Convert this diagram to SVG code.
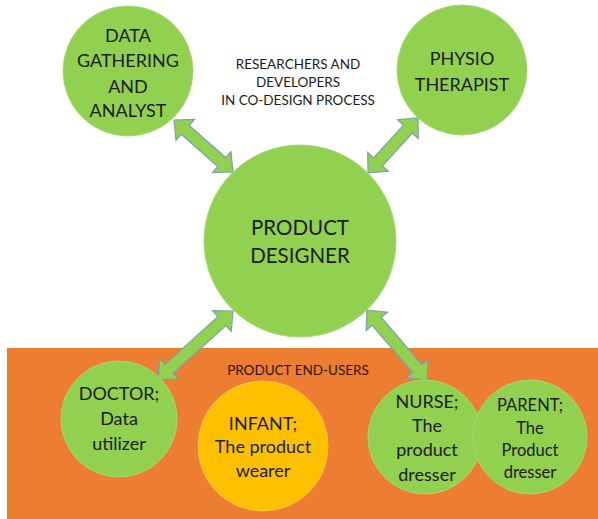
<svg xmlns="http://www.w3.org/2000/svg" width="598" height="519" viewBox="0 0 598 519">
<style>
.node{fill:#92D050;stroke:#A6D975;stroke-width:1}
.infant{fill:#FFC000;stroke:#F7C64A;stroke-width:1}
.arrow{fill:#92D050;stroke:#7C9FAE;stroke-width:1.2;stroke-linejoin:miter}
text{font-family:Lato,"Liberation Sans",sans-serif;fill:#1c1c1c;text-anchor:middle}
.lbl{font-size:18px}
.big{font-size:20.5px}
.small{font-size:13.5px}
.par{font-size:16.5px}
</style>
<rect width="598" height="519" fill="#ffffff"/>
<rect id="endusers-area" x="7" y="348" width="591" height="171" fill="#ED7D31"/>
<g id="caption-top">
<text class="small" x="298" y="69">RESEARCHERS AND</text>
<text class="small" x="298" y="87">DEVELOPERS</text>
<text class="small" x="298" y="105">IN CO-DESIGN PROCESS</text>
</g>
<g id="caption-endusers">
<text class="small" x="298" y="375" style="fill:#2a1608">PRODUCT END-USERS</text>
</g>
<g id="connectors">
<path class="arrow" transform="translate(174,120) rotate(41.4)" d="M0,0 L15,-14 L15,-6 L63.6,-6 L63.6,-14 L78.6,0 L63.6,14 L63.6,6 L15,6 L15,14 Z"/>
<path class="arrow" transform="translate(418,118) rotate(132.3)" d="M0,0 L15,-14 L15,-6 L59.3,-6 L59.3,-14 L74.3,0 L59.3,14 L59.3,6 L15,6 L15,14 Z"/>
<path class="arrow" transform="translate(233,311) rotate(137.8)" d="M0,0 L15,-14 L15,-6 L86.2,-6 L86.2,-14 L101.2,0 L86.2,14 L86.2,6 L15,6 L15,14 Z"/>
<path class="arrow" transform="translate(367,310) rotate(49.4)" d="M0,0 L15,-14 L15,-6 L77.2,-6 L77.2,-14 L92.2,0 L77.2,14 L77.2,6 L15,6 L15,14 Z"/>
</g>
<g id="data-gathering">
<circle class="node" cx="128" cy="71" r="65"/>
<text class="lbl" x="128" y="42">DATA</text>
<text class="lbl" x="128" y="67">GATHERING</text>
<text class="lbl" x="128" y="93">AND</text>
<text class="lbl" x="128" y="117">ANALYST</text>
</g>
<g id="physio">
<circle class="node" cx="462" cy="70" r="65"/>
<text class="lbl" x="462" y="65">PHYSIO</text>
<text class="lbl" x="462" y="91">THERAPIST</text>
</g>
<g id="product-designer">
<circle class="node" cx="300" cy="241" r="96"/>
<text class="big" x="300" y="235">PRODUCT</text>
<text class="big" x="300" y="263">DESIGNER</text>
</g>
<g id="doctor">
<circle class="node" cx="119" cy="419" r="58"/>
<text class="lbl" x="119" y="400">DOCTOR;</text>
<text class="lbl" x="119" y="425">Data</text>
<text class="lbl" x="119" y="450">utilizer</text>
</g>
<g id="infant">
<circle class="infant" cx="263" cy="446" r="65"/>
<text class="lbl" x="263" y="430">INFANT;</text>
<text class="lbl" x="263" y="453">The product</text>
<text class="lbl" x="263" y="477">wearer</text>
</g>
<g id="nurse">
<circle class="node" cx="425" cy="437" r="57"/>
<text class="lbl" x="427" y="408">NURSE;</text>
<text class="lbl" x="427" y="432">The</text>
<text class="lbl" x="427" y="456">product</text>
<text class="lbl" x="427" y="481">dresser</text>
</g>
<g id="parent">
<circle class="node" cx="530" cy="437" r="57"/>
<text class="par" x="530" y="411">PARENT;</text>
<text class="par" x="530" y="434">The</text>
<text class="par" x="530" y="456">Product</text>
<text class="par" x="530" y="478">dresser</text>
</g>
</svg>
